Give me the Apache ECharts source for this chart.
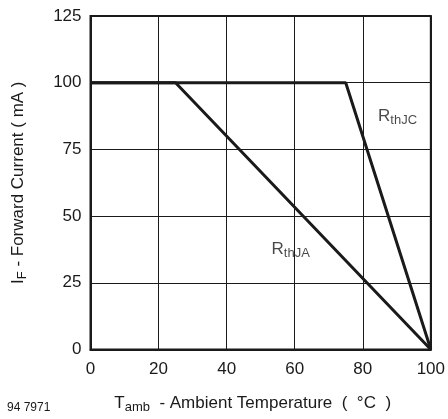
<!DOCTYPE html>
<html><head><meta charset="utf-8">
<script src="https://cdn.jsdelivr.net/npm/echarts@6/dist/echarts.min.js"></script>
<style>html,body{margin:0;padding:0;background:#fff}#c{width:448px;height:419px}</style>
</head><body><div id="c"></div>
<script>
// Data
const xTicks = [0, 20, 40, 60, 80, 100];
const yTicks = [0, 25, 50, 75, 100, 125];
const rthJA_T = [0, 25, 100];      // Tamb (°C)
const rthJA_I = [100, 100, 0];     // IF (mA)
const rthJC_T = [0, 75, 100];
const rthJC_I = [100, 100, 0];
const labelNames = ['thJC', 'thJA'];
const labelAtT = [84.5, 53.2];
const labelAtI = [87.4, 37.4];
const figureNumber = '94 7971';

const FONT = 'Liberation Sans, Arial, Helvetica, sans-serif';
const INK = '#1a1a1a';
const zip = (a, b) => a.map((v, i) => [v, b[i]]);

const chart = echarts.init(document.getElementById('c'), null, {renderer: 'canvas'});
chart.setOption({
  animation: false,
  backgroundColor: '#fff',
  grid: {left: 86, right: 12, top: 16, bottom: 66, show: true, borderColor: INK, borderWidth: 2, backgroundColor: 'transparent'},
  xAxis: {
    type: 'value', min: xTicks[0], max: xTicks[xTicks.length - 1], interval: 20,
    axisLine: {show: true, lineStyle: {color: INK, width: 2}},
    axisTick: {show: false},
    splitLine: {show: true, lineStyle: {color: INK, width: 1}},
    axisLabel: {color: INK, fontFamily: FONT, fontSize: 17, margin: 11},
    name: '{t|T}{s|amb}{t|  - Ambient Temperature  (  °C  )}',
    nameLocation: 'middle', nameGap: 44,
    nameTextStyle: {
      padding: [0, 16, 0, 0],
      rich: {
        t: {fontFamily: FONT, fontSize: 17, color: INK, lineHeight: 20},
        s: {fontFamily: FONT, fontSize: 13, color: INK, lineHeight: 20, padding: [8, 0, 0, 0]}
      }
    }
  },
  yAxis: {
    type: 'value', min: yTicks[0], max: yTicks[yTicks.length - 1], interval: 25,
    axisLine: {show: true, lineStyle: {color: INK, width: 2}},
    axisTick: {show: false},
    splitLine: {show: true, lineStyle: {color: INK, width: 1}},
    axisLabel: {color: INK, fontFamily: FONT, fontSize: 17, margin: 9},
    name: '{t|I}{s|F}{t| - Forward Current ( mA )}',
    nameLocation: 'middle', nameGap: 62, nameRotate: 90,
    nameTextStyle: {
      rich: {
        t: {fontFamily: FONT, fontSize: 17, color: INK, lineHeight: 20},
        s: {fontFamily: FONT, fontSize: 13, color: INK, lineHeight: 20, padding: [8, 0, 0, 0]}
      }
    }
  },
  series: [
    {type: 'line', data: zip(rthJA_T, rthJA_I), symbol: 'none', lineStyle: {color: INK, width: 3}, z: 5},
    {type: 'line', data: zip(rthJC_T, rthJC_I), symbol: 'none', lineStyle: {color: INK, width: 3}, z: 5},
    {
      type: 'scatter', symbolSize: 0, silent: true, z: 6,
      data: labelNames.map((n, i) => ({value: [labelAtT[i], labelAtI[i]], name: n})),
      label: {
        show: true, position: 'right', distance: 0,
        formatter: p => '{r|R}{s|' + p.name + '}',
        rich: {
          r: {fontFamily: FONT, fontSize: 17, color: INK, lineHeight: 20},
          s: {fontFamily: FONT, fontSize: 13, color: INK, lineHeight: 20, padding: [8, 0, 0, 0]}
        }
      }
    }
  ],
  graphic: [
    {type: 'text', left: 7, top: 402, style: {text: figureNumber, font: '12px ' + FONT, fill: INK}}
  ]
});
</script></body></html>
